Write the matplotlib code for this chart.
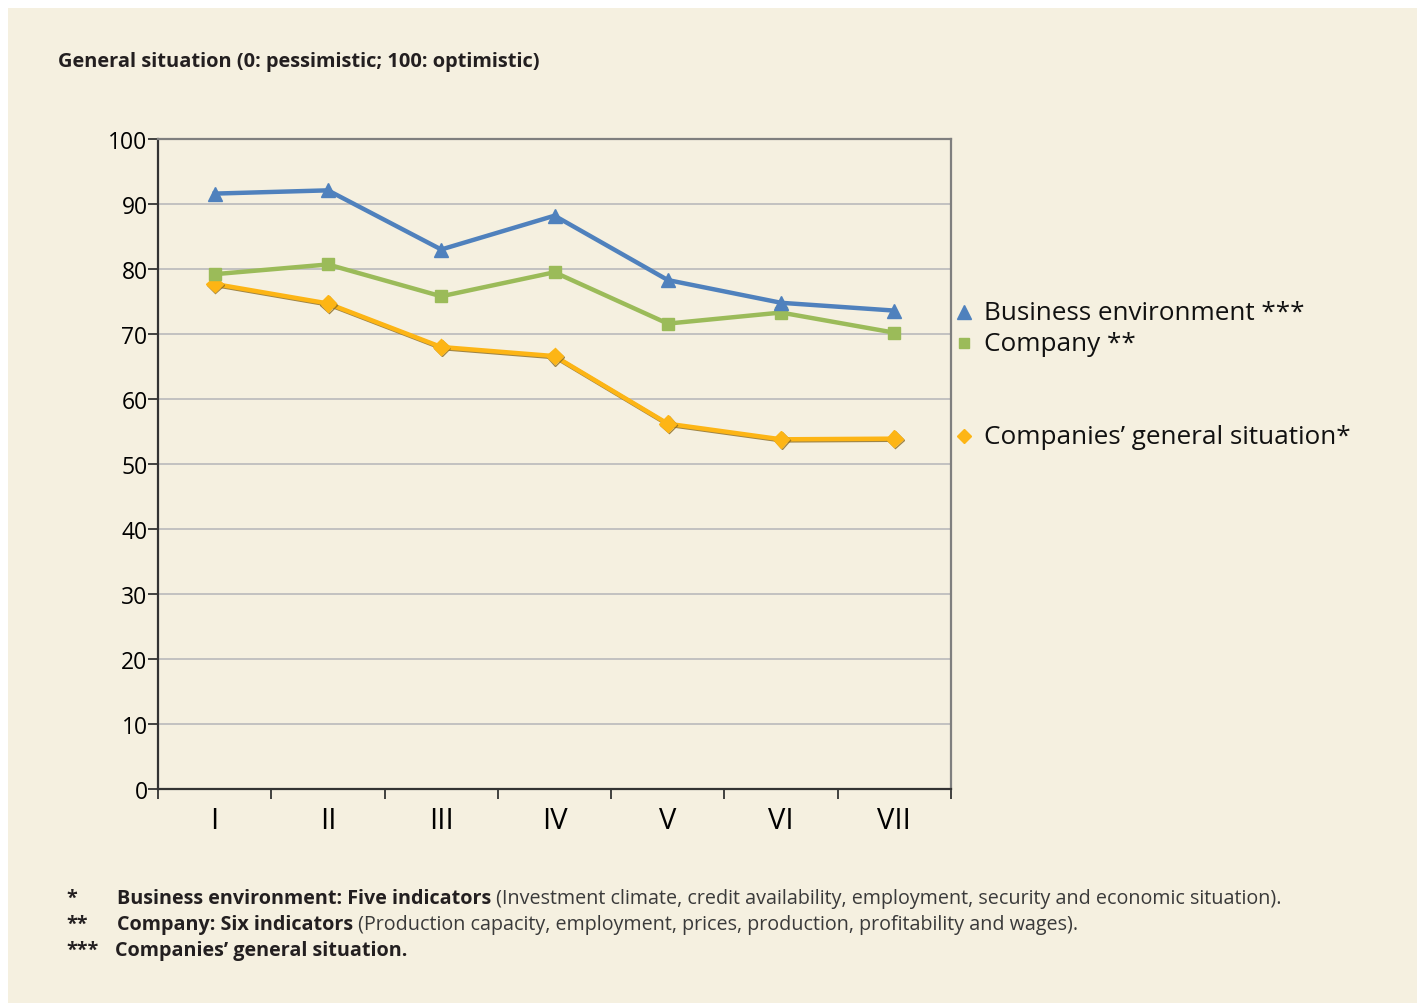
import matplotlib
matplotlib.use("Agg")
import matplotlib.pyplot as plt
import matplotlib.patheffects as pe
from matplotlib.patches import Rectangle
from matplotlib.lines import Line2D

categories = ["I", "II", "III", "IV", "V", "VI", "VII"]
business_env = [91.6, 92.1, 83.0, 88.2, 78.3, 74.8, 73.6]
company = [79.2, 80.7, 75.8, 79.5, 71.6, 73.3, 70.2]
general = [77.7, 74.7, 68.0, 66.6, 56.2, 53.8, 53.9]
series_labels = ["Business environment ***", "Company **", "Companies\u2019 general situation*"]
title = "General situation (0: pessimistic; 100: optimistic)"
yticks = list(range(0, 101, 10))

BG = "#F5F0E0"
BLUE = "#4F81BD"
GREEN = "#9BBB59"
ORANGE = "#FDB515"
FONT = "Open Sans"

plt.rcParams['font.family'] = [FONT, 'DejaVu Sans']

W, H = 1417, 1004
fig = plt.figure(figsize=(W / 100, H / 100), dpi=100)
fig.patch.set_facecolor("white")
fig.patches.append(Rectangle((8 / W, 0), 1, 1 - 9 / H, transform=fig.transFigure,
                             facecolor=BG, edgecolor="none", zorder=-10))

ax = fig.add_axes([158 / W, 1 - 790 / H, (951 - 158) / W, (790 - 140) / H])
ax.set_facecolor(BG)
x = list(range(len(categories)))

shadow = [pe.SimpleLineShadow(offset=(0.6, -0.8), shadow_color="#8a6a20", alpha=0.8), pe.Normal()]
ax.plot(x, general, color=ORANGE, lw=3.2, marker="D", ms=8.5, zorder=3, path_effects=shadow)
ax.plot(x, company, color=GREEN, lw=3.2, marker="s", ms=8, zorder=4)
ax.plot(x, business_env, color=BLUE, lw=3.2, marker="^", ms=10.5, zorder=5)

ax.set_xlim(-0.5, len(categories) - 0.5)
ax.set_ylim(0, 100)
ax.set_yticks(yticks)
ax.set_yticklabels([str(v) for v in yticks], fontsize=16.5)
ax.set_xticks(x)
ax.set_xticklabels(categories, fontsize=21)
ax.set_xticks([i - 0.5 for i in range(len(categories) + 1)], minor=True)
ax.tick_params(axis="x", which="major", length=0, pad=12)
ax.tick_params(axis="x", which="minor", length=7, width=1.3, color="#333333", direction="out")
ax.tick_params(axis="y", length=7, width=1.3, color="#333333", pad=0.5)
ax.grid(axis="y", color="#BEBEBE", lw=1.3)
ax.set_axisbelow(True)
for side in ["left", "bottom"]:
    ax.spines[side].set_color("#333333")
    ax.spines[side].set_linewidth(1.6)
for side in ["top", "right"]:
    ax.spines[side].set_color("#7F7F7F")
    ax.spines[side].set_linewidth(1.6)

fig.text(58 / W, 1 - 62 / H, title, fontsize=14.4, fontweight="bold", color="#231F20",
         va="center", ha="left")

# legend
leg_y = [312, 343, 436]
leg_styles = [(BLUE, "^", 10), (GREEN, "s", 8), (ORANGE, "D", 8)]
for (c, m, s), lab, yy in zip(leg_styles, series_labels, leg_y):
    fig.lines.append(Line2D([964 / W], [1 - (yy + 1) / H], marker=m, color=c, ms=s * 0.95,
                            linestyle="none", transform=fig.transFigure))
    fig.text(984 / W, 1 - (yy + 2) / H, lab, fontsize=18.8, va="center", ha="left", color="#111111")

# footnotes
notes = [
    ("*", "Business environment: Five indicators",
     " (Investment climate, credit availability, employment, security and economic situation)."),
    ("**", "Company: Six indicators",
     " (Production capacity, employment, prices, production, profitability and wages)."),
    ("***", "Companies\u2019 general situation.", ""),
]
note_y = [899, 925, 951]
FS = 14.2
for (mark, bold, rest), yy in zip(notes, note_y):
    fig.text(66 / W, 1 - yy / H, mark, fontsize=FS, fontweight="bold", va="center",
             ha="left", color="#231F20")
    xstart = 117 if mark != "***" else 115
    t = fig.text(xstart / W, 1 - yy / H, bold, fontsize=FS, fontweight="bold",
                 va="center", ha="left", color="#231F20")
    if rest:
        fig.canvas.draw()
        bb = t.get_window_extent()
        fig.text(bb.x1 / W, 1 - yy / H, rest, fontsize=FS, va="center", ha="left",
                 color="#3a3a3a")

fig.savefig("out.png", dpi=100, facecolor=fig.get_facecolor())
